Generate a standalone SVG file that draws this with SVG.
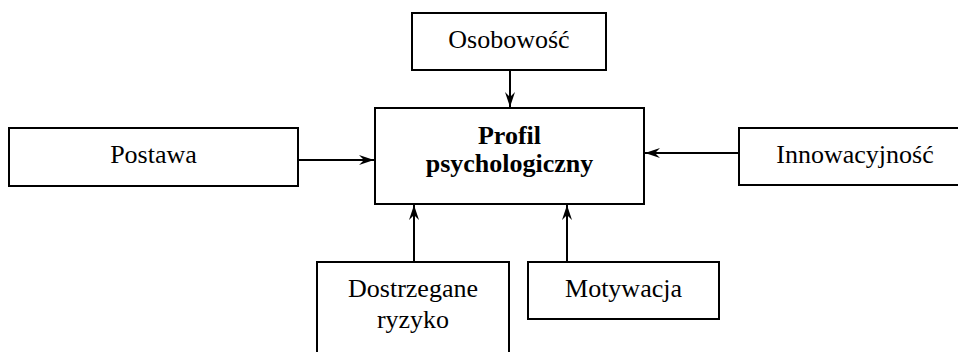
<svg xmlns="http://www.w3.org/2000/svg" width="958" height="352" viewBox="0 0 958 352">
<style>
.box{fill:#fff;stroke:#000;stroke-width:2}
.t{font-family:"Liberation Serif","Times New Roman",serif;font-size:26px;fill:#000;text-anchor:middle}
.b{font-weight:bold}
.c{stroke:#000;stroke-width:2;fill:none}
</style>
<defs>
<marker id="ah" markerUnits="userSpaceOnUse" markerWidth="16" markerHeight="12" viewBox="0 0 16 12" refX="15" refY="6" orient="auto">
<path d="M0,1 L15,6 L0,11 L5,6 z" fill="#000"/>
</marker>
</defs>
<rect width="958" height="352" fill="#fff"/>
<g id="connectors">
<line class="c" x1="510" y1="70" x2="510" y2="107" marker-end="url(#ah)"/>
<line class="c" x1="298" y1="160" x2="374" y2="160" marker-end="url(#ah)"/>
<line class="c" x1="739" y1="153" x2="645" y2="153" marker-end="url(#ah)"/>
<line class="c" x1="414" y1="262" x2="414" y2="205" marker-end="url(#ah)"/>
<line class="c" x1="567" y1="262" x2="567" y2="205" marker-end="url(#ah)"/>
</g>
<g id="profil">
<rect class="box" x="375" y="108" width="269" height="96"/>
<text class="t b" x="509.5" y="144">Profil</text>
<text class="t b" x="509.5" y="172">psychologiczny</text>
</g>
<g id="osobowosc">
<rect class="box" x="412" y="13" width="194" height="57"/>
<text class="t" x="509" y="48">Osobowość</text>
</g>
<g id="postawa">
<rect class="box" x="9" y="128" width="289" height="58"/>
<text class="t" x="153.5" y="163">Postawa</text>
</g>
<g id="innowacyjnosc">
<rect class="box" x="739" y="128" width="232" height="57"/>
<text class="t" x="855" y="163">Innowacyjność</text>
</g>
<g id="dostrzegane">
<rect class="box" x="317" y="262" width="192" height="100"/>
<text class="t" x="413" y="297">Dostrzegane</text>
<text class="t" x="413" y="328">ryzyko</text>
</g>
<g id="motywacja">
<rect class="box" x="528" y="262" width="191" height="57"/>
<text class="t" x="623.5" y="297">Motywacja</text>
</g>
</svg>
